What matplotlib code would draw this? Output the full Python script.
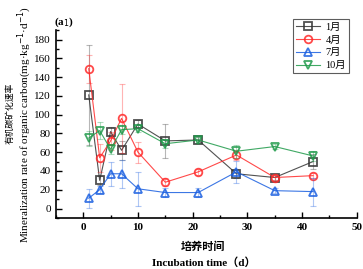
import matplotlib.pyplot as plt
from matplotlib.ticker import MultipleLocator

plt.rcParams['font.family'] = ['Liberation Serif', 'Noto Sans CJK SC']

# incubation days
days = [1, 3, 5, 7, 10, 15, 21, 28, 35, 42]

jan = [121, 30, 82, 62, 90, 72, 73, 37, 33, 50]
jan_err = [53, 5, 5, 10, 4, 18, 3, 5, 3, 8]
apr = [149, 54, 72, 96, 60, 28, 39, 57, 33, 35]
apr_err = [15, 15, 10, 37, 11, 4, 3, 5, 3, 3]
jul = [11, 20, 37, 37, 21, 17, 17, 39, 19, 18]
jul_err = [10, 4, 13, 15, 18, 5, 5, 12, 3, 15]
octo = [75, 83, 63, 84, 85, 69, 73, 61, 66, 56]
octo_err = [8, 9, 5, 5, 4, 5, 3, 7, 3, 5]

labels = ['1月', '4月', '7月', '10月']
colors = ['#333333', '#ff2a2a', '#1a5fe0', '#1f9a4a']
markers = ['s', 'o', '^', 'v']

fig = plt.figure(figsize=(3.63, 2.69), dpi=100)
ax = fig.add_axes([0.154, 0.19, 0.829, 0.698])

series = [(jan, jan_err), (apr, apr_err), (jul, jul_err), (octo, octo_err)]
for (vals, errs), lab, c, m in zip(series, labels, colors, markers):
    ax.errorbar(days, vals, yerr=errs, fmt='none', ecolor=c, alpha=0.35,
                elinewidth=0.8, capsize=2, capthick=0.8)
    ax.plot(days, vals, color=c, lw=0.8, alpha=0.85, label=lab,
            marker=m, markersize=5.5, markerfacecolor='none',
            markeredgecolor=c, markeredgewidth=1.3)

ax.set_xlim(-5, 50)
ax.set_ylim(-10, 190)
ax.xaxis.set_major_locator(MultipleLocator(10))
ax.xaxis.set_minor_locator(MultipleLocator(5))
ax.yaxis.set_minor_locator(MultipleLocator(10))
ax.set_yticks(range(0, 181, 20))
ax.tick_params(direction='in', which='major', length=4, width=1, labelsize=8)
ax.tick_params(direction='in', which='minor', length=2.5, width=1)
for lbl in ax.get_xticklabels():
    lbl.set_fontweight('bold')
ax.spines['top'].set_visible(False)
ax.spines['right'].set_visible(False)
ax.spines['left'].set_linewidth(1.2)
ax.spines['bottom'].set_linewidth(1.2)

ax.set_xlabel('培养时间\nIncubation time（d）', fontsize=8, fontweight='bold',
              linespacing=1.6)
ax.xaxis.set_label_coords(0.49, -0.125, transform=ax.transAxes)
ax.xaxis.label.set_va('top')

ax.set_ylabel('Mineralization rate of organic carbon(mg·kg$^{-1}$·d$^{-1}$)',
              fontsize=8)
ax.yaxis.set_label_coords(-0.072, 0.497)
ax.text(-0.153, 0.558, '有机碳矿化速率', transform=ax.transAxes, rotation=90,
        fontsize=6.3, ha='center', va='center')

fig.text(0.176, 0.918, '(a$_1$)', fontsize=8, fontweight='bold',
         ha='center', va='center')

leg = ax.legend(loc='upper right', bbox_to_anchor=(0.962, 0.929),
                bbox_transform=fig.transFigure, fontsize=7.5,
                frameon=True, fancybox=False, edgecolor='#333333',
                handlelength=2.3, borderpad=0.3, labelspacing=0.35,
                handletextpad=0.5, borderaxespad=0)
leg.get_frame().set_linewidth(0.8)

fig.savefig('out.png', dpi=100)
